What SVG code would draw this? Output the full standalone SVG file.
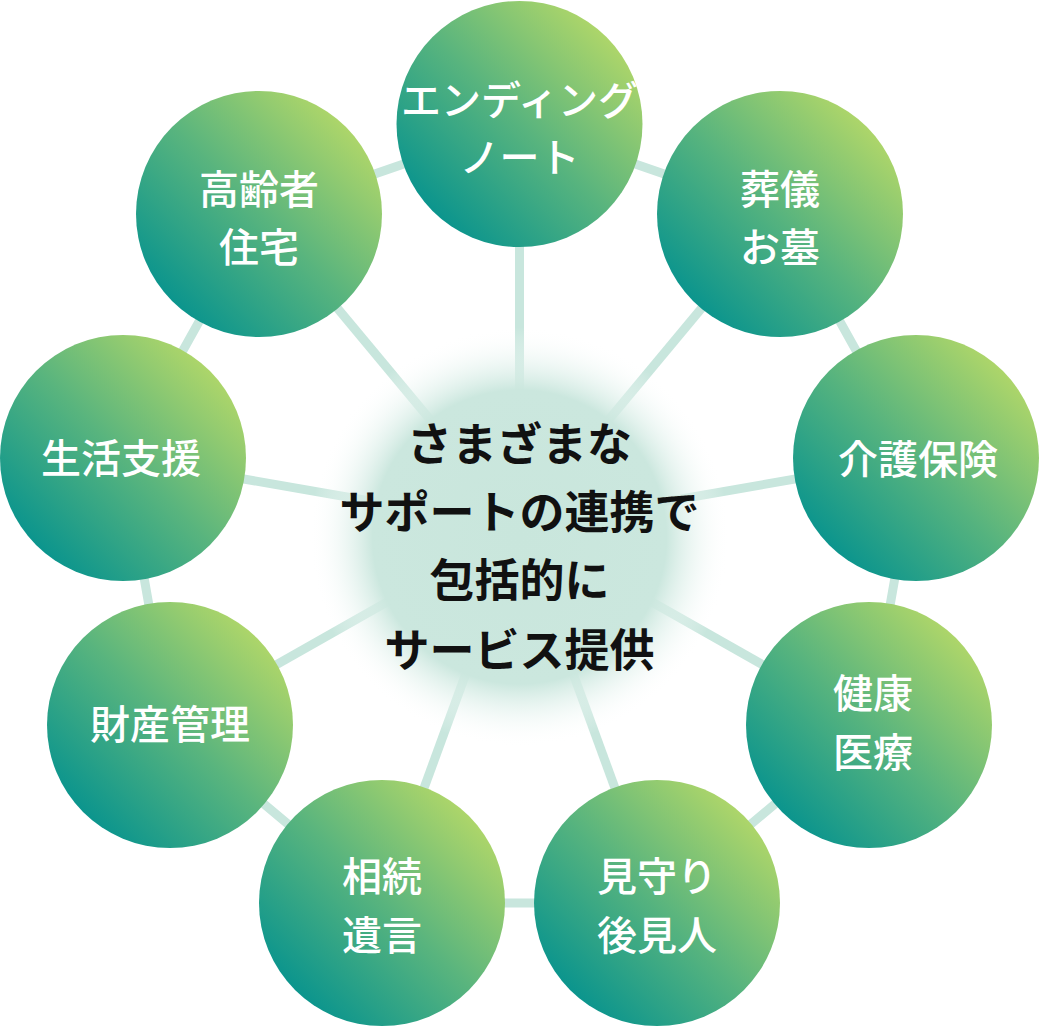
<svg xmlns="http://www.w3.org/2000/svg" width="1039" height="1026" viewBox="0 0 1039 1026">
  <style>
    .conn { stroke: #c8e6dd; stroke-width: 9; fill: none; }
    .node { fill: url(#nodeGrad); }
    .label { fill: #ffffff; font-family: "Noto Sans CJK JP", "Noto Sans", sans-serif; font-size: 40px; font-weight: 500; text-anchor: middle; dominant-baseline: central; }
    .center-label { fill: #111111; font-family: "Noto Sans CJK JP", "Noto Sans", sans-serif; font-size: 45px; font-weight: 700; text-anchor: middle; dominant-baseline: central; }
  </style>
  <defs>
    <linearGradient id="nodeGrad" x1="0.15" y1="0.85" x2="0.85" y2="0.15">
      <stop offset="0" stop-color="#0c958d"/>
      <stop offset="0.5" stop-color="#58b47e"/>
      <stop offset="1" stop-color="#acd56a"/>
    </linearGradient>
    <radialGradient id="glowGrad" cx="0.5" cy="0.5" r="0.5">
      <stop offset="0" stop-color="#c9e6dc" stop-opacity="1"/>
      <stop offset="0.7" stop-color="#cbe7de" stop-opacity="1"/>
      <stop offset="1" stop-color="#ffffff" stop-opacity="0"/>
    </radialGradient>
  </defs>
  <rect width="1039" height="1026" fill="#ffffff"/>

  <g id="connectors">
    <polygon class="conn" points="519.5,124 780,214 916,458 869,725 657,903 382,903 170,725 123,458 259,214"/>
    <line class="conn" x1="519.5" y1="527" x2="519.5" y2="124"/>
    <line class="conn" x1="519.5" y1="527" x2="780" y2="214"/>
    <line class="conn" x1="519.5" y1="527" x2="916" y2="458"/>
    <line class="conn" x1="519.5" y1="527" x2="869" y2="725"/>
    <line class="conn" x1="519.5" y1="527" x2="657" y2="903"/>
    <line class="conn" x1="519.5" y1="527" x2="382" y2="903"/>
    <line class="conn" x1="519.5" y1="527" x2="170" y2="725"/>
    <line class="conn" x1="519.5" y1="527" x2="123" y2="458"/>
    <line class="conn" x1="519.5" y1="527" x2="259" y2="214"/>
  </g>

  <g id="center">
    <circle cx="519.5" cy="537" r="210" fill="url(#glowGrad)"/>
    <text class="center-label" x="519.5" y="441">さまざまな</text>
    <text class="center-label" x="519.5" y="509">サポートの連携で</text>
    <text class="center-label" x="519.5" y="577">包括的に</text>
    <text class="center-label" x="519.5" y="647">サービス提供</text>
  </g>

  <g id="node-ending-note">
    <circle class="node" cx="519.5" cy="124" r="123"/>
    <text class="label" x="519.5" y="98">エンディング</text>
    <text class="label" x="519.5" y="155">ノート</text>
  </g>
  <g id="node-funeral">
    <circle class="node" cx="780" cy="214" r="123"/>
    <text class="label" x="780" y="187">葬儀</text>
    <text class="label" x="780" y="245">お墓</text>
  </g>
  <g id="node-care-insurance">
    <circle class="node" cx="916" cy="458" r="123"/>
    <text class="label" x="918" y="457">介護保険</text>
  </g>
  <g id="node-health">
    <circle class="node" cx="869" cy="725" r="123"/>
    <text class="label" x="873" y="691">健康</text>
    <text class="label" x="873" y="750">医療</text>
  </g>
  <g id="node-watch">
    <circle class="node" cx="657" cy="903" r="123"/>
    <text class="label" x="657" y="874">見守り</text>
    <text class="label" x="657" y="933">後見人</text>
  </g>
  <g id="node-inheritance">
    <circle class="node" cx="382" cy="903" r="123"/>
    <text class="label" x="382" y="874">相続</text>
    <text class="label" x="382" y="933">遺言</text>
  </g>
  <g id="node-property">
    <circle class="node" cx="170" cy="725" r="123"/>
    <text class="label" x="170" y="722">財産管理</text>
  </g>
  <g id="node-life-support">
    <circle class="node" cx="123" cy="458" r="123"/>
    <text class="label" x="121" y="456">生活支援</text>
  </g>
  <g id="node-senior-housing">
    <circle class="node" cx="259" cy="214" r="123"/>
    <text class="label" x="259" y="187">高齢者</text>
    <text class="label" x="259" y="245">住宅</text>
  </g>
</svg>
